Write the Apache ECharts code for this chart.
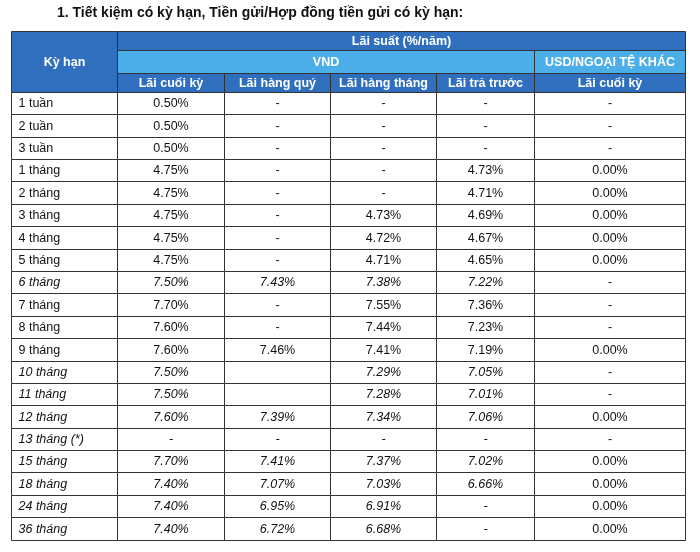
<!DOCTYPE html>
<html lang="vi">
<head>
<meta charset="UTF-8">
<title>Lãi suất tiết kiệm có kỳ hạn</title>
<script src="https://cdn.jsdelivr.net/npm/echarts@6/dist/echarts.min.js"></script>
<style>html, body { margin: 0; padding: 0; background: #fff; }</style>
</head>
<body>
<div id="main" style="width: 700px; height: 552px;"></div>
<script>
// ---- data ----
var title = '1. Tiết kiệm có kỳ hạn, Tiền gửi/Hợp đồng tiền gửi có kỳ hạn:';
var headTerm = 'Kỳ hạn';
var headGroup = 'Lãi suất (%/năm)';
var currencies = ['VND', 'USD/NGOẠI TỆ KHÁC'];
var columns = ['Lãi cuối kỳ', 'Lãi hàng quý', 'Lãi hàng tháng', 'Lãi trả trước', 'Lãi cuối kỳ'];

var terms = ['1 tuần', '2 tuần', '3 tuần', '1 tháng', '2 tháng', '3 tháng', '4 tháng', '5 tháng',
    '6 tháng', '7 tháng', '8 tháng', '9 tháng', '10 tháng', '11 tháng', '12 tháng', '13 tháng (*)',
    '15 tháng', '18 tháng', '24 tháng', '36 tháng'];
var laiCuoiKy = ['0.50%', '0.50%', '0.50%', '4.75%', '4.75%', '4.75%', '4.75%', '4.75%',
    '7.50%', '7.70%', '7.60%', '7.60%', '7.50%', '7.50%', '7.60%', '-',
    '7.70%', '7.40%', '7.40%', '7.40%'];
var laiHangQuy = ['-', '-', '-', '-', '-', '-', '-', '-',
    '7.43%', '-', '-', '7.46%', '', '', '7.39%', '-',
    '7.41%', '7.07%', '6.95%', '6.72%'];
var laiHangThang = ['-', '-', '-', '-', '-', '4.73%', '4.72%', '4.71%',
    '7.38%', '7.55%', '7.44%', '7.41%', '7.29%', '7.28%', '7.34%', '-',
    '7.37%', '7.03%', '6.91%', '6.68%'];
var laiTraTruoc = ['-', '-', '-', '4.73%', '4.71%', '4.69%', '4.67%', '4.65%',
    '7.22%', '7.36%', '7.23%', '7.19%', '7.05%', '7.01%', '7.06%', '-',
    '7.02%', '6.66%', '-', '-'];
var usdCuoiKy = ['-', '-', '-', '0.00%', '0.00%', '0.00%', '0.00%', '0.00%',
    '-', '-', '-', '0.00%', '-', '-', '0.00%', '-',
    '0.00%', '0.00%', '0.00%', '0.00%'];
var italicTerms = ['6 tháng', '10 tháng', '11 tháng', '12 tháng', '13 tháng (*)',
    '15 tháng', '18 tháng', '24 tháng', '36 tháng'];

// ---- layout ----
var colWidths = [106, 107, 106, 106, 98, 151];
var headHeights = [19, 23, 18.7];
var rowHeight = 22.4;
var darkBlue = '#2f6fbe';
var lightBlue = '#4caee8';

var xEdges = [0];
colWidths.forEach(function (w) { xEdges.push(xEdges[xEdges.length - 1] + w); });
var yEdges = [0];
headHeights.forEach(function (h) { yEdges.push(yEdges[yEdges.length - 1] + h); });
terms.forEach(function () { yEdges.push(yEdges[yEdges.length - 1] + rowHeight); });

var cellData = [];
var cellInfo = [];
function addCell(c0, c1, r0, r1, text, info) {
    cellData.push({ name: text, value: [xEdges[c0], yEdges[r0], xEdges[c1 + 1], yEdges[r1 + 1]] });
    info.text = text;
    cellInfo.push(info);
}

// header
addCell(0, 0, 0, 2, headTerm, { fill: darkBlue, head: true });
addCell(1, 5, 0, 0, headGroup, { fill: darkBlue, head: true });
addCell(1, 4, 1, 1, currencies[0], { fill: lightBlue, head: true });
addCell(5, 5, 1, 1, currencies[1], { fill: lightBlue, head: true });
columns.forEach(function (c, i) {
    addCell(i + 1, i + 1, 2, 2, c, { fill: darkBlue, head: true });
});

// body
var bodyCols = [laiCuoiKy, laiHangQuy, laiHangThang, laiTraTruoc, usdCuoiKy];
terms.forEach(function (t, r) {
    var it = italicTerms.indexOf(t) >= 0;
    addCell(0, 0, r + 3, r + 3, t, { fill: '#fff', left: true, italic: it });
    bodyCols.forEach(function (col, c) {
        addCell(c + 1, c + 1, r + 3, r + 3, col[r], { fill: '#fff', italic: it && c < 4 });
    });
});

function renderCell(params, api) {
    var info = cellInfo[params.dataIndex];
    var p0 = api.coord([api.value(0), api.value(1)]);
    var p1 = api.coord([api.value(2), api.value(3)]);
    var x0 = Math.round(p0[0]) + 0.5, y0 = Math.round(p0[1]) + 0.5;
    var x1 = Math.round(p1[0]) + 0.5, y1 = Math.round(p1[1]) + 0.5;
    return {
        type: 'group',
        children: [{
            type: 'rect',
            shape: { x: x0, y: y0, width: x1 - x0, height: y1 - y0 },
            style: { fill: info.fill, stroke: '#333', lineWidth: 1 }
        }, {
            type: 'text',
            x: info.left ? x0 + 7 : (x0 + x1) / 2,
            y: (y0 + y1) / 2 + 0.5,
            style: {
                text: info.text,
                fill: info.head ? '#fff' : '#111',
                fontSize: info.head ? 12.5 : 12.5,
                fontWeight: info.head ? 'bold' : 'normal',
                fontStyle: info.italic ? 'italic' : 'normal',
                fontFamily: 'Liberation Sans, Arial, sans-serif',
                align: info.left ? 'left' : 'center',
                verticalAlign: 'middle'
            }
        }]
    };
}

var myChart = echarts.init(document.getElementById('main'));
var option = {
    animation: false,
    backgroundColor: '#fff',
    title: {
        text: title,
        left: 52,
        top: 1,
        textStyle: {
            fontSize: 14,
            fontWeight: 'bold',
            color: '#111',
            fontFamily: 'Liberation Sans, Arial, sans-serif'
        }
    },
    grid: {
        left: 11,
        top: 31,
        width: xEdges[xEdges.length - 1],
        height: yEdges[yEdges.length - 1]
    },
    xAxis: {
        type: 'value',
        min: 0,
        max: xEdges[xEdges.length - 1],
        show: false
    },
    yAxis: {
        type: 'value',
        min: 0,
        max: yEdges[yEdges.length - 1],
        inverse: true,
        show: false
    },
    series: [{
        type: 'custom',
        renderItem: renderCell,
        encode: { x: [0, 2], y: [1, 3] },
        data: cellData
    }]
};
myChart.setOption(option);
</script>
</body>
</html>
